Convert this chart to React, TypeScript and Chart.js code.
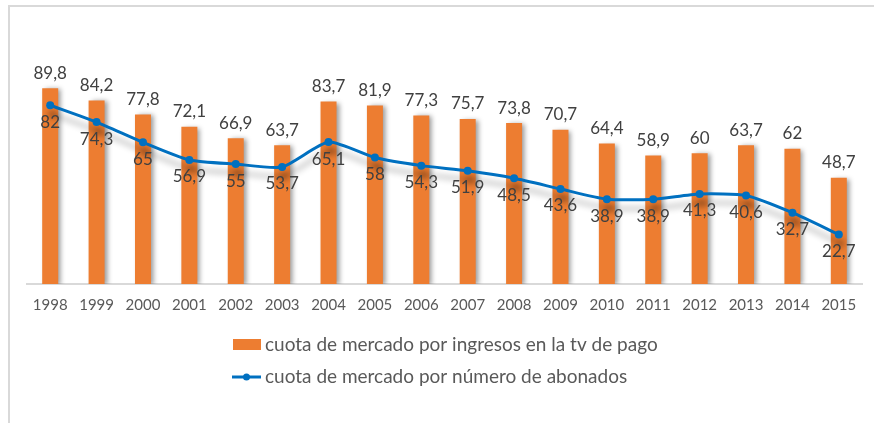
import React, { useEffect, useRef } from "react";
import { Chart, registerables } from "chart.js";

Chart.register(...registerables);

const years = ["1998","1999","2000","2001","2002","2003","2004","2005","2006","2007","2008","2009","2010","2011","2012","2013","2014","2015"];
const ingresos = [89.8, 84.2, 77.8, 72.1, 66.9, 63.7, 83.7, 81.9, 77.3, 75.7, 73.8, 70.7, 64.4, 58.9, 60, 63.7, 62, 48.7];
const abonados = [82, 74.3, 65, 56.9, 55, 53.7, 65.1, 58, 54.3, 51.9, 48.5, 43.6, 38.9, 38.9, 41.3, 40.6, 32.7, 22.7];
const labelIngresos = "cuota de mercado por ingresos en la tv de pago";
const labelAbonados = "cuota de mercado por número de abonados";

const ORANGE = "#ED7D31";
const BLUE = "#0070C0";
const FONT = "Lato, 'Open Sans', sans-serif";
const fmt = (v: number) => String(v).replace(".", ",");

export default function App() {
  const ref = useRef<HTMLCanvasElement | null>(null);
  useEffect(() => {
    if (!ref.current) return;
    const shadowPlugin = {
      id: "shadows",
      beforeDatasetDraw(chart: any, args: any) {
        const ctx = chart.ctx;
        ctx.save();
        if (args.meta.type === "bar") {
          ctx.shadowColor = "rgba(0,0,0,0.40)";
          ctx.shadowBlur = 5;
          ctx.shadowOffsetX = 3;
          ctx.shadowOffsetY = 1;
        } else {
          ctx.shadowColor = "rgba(0,0,0,0.30)";
          ctx.shadowBlur = 6;
          ctx.shadowOffsetX = 2;
          ctx.shadowOffsetY = 9;
        }
      },
      afterDatasetDraw(chart: any) {
        chart.ctx.restore();
      },
    };
    const labelsPlugin = {
      id: "valueLabels",
      afterDatasetsDraw(chart: any) {
        const ctx = chart.ctx;
        ctx.save();
        ctx.font = `17px ${FONT}`;
        ctx.fillStyle = "#404040";
        ctx.textAlign = "center";
        ctx.textBaseline = "middle";
        chart.data.datasets.forEach((ds: any, di: number) => {
          const meta = chart.getDatasetMeta(di);
          meta.data.forEach((el: any, i: number) => {
            const v = ds.data[i];
            if (meta.type === "bar") {
              ctx.fillText(fmt(v), el.x, el.y - 15);
            } else {
              ctx.fillText(fmt(v), el.x, el.y + 17);
            }
          });
        });
        ctx.restore();
      },
      afterDraw(chart: any) {
        const ctx = chart.ctx;
        ctx.save();
        ctx.fillStyle = ORANGE;
        ctx.fillRect(233, 339, 28, 11);
        ctx.strokeStyle = BLUE;
        ctx.lineWidth = 3;
        ctx.beginPath();
        ctx.moveTo(232, 377);
        ctx.lineTo(261, 377);
        ctx.stroke();
        ctx.fillStyle = BLUE;
        ctx.beginPath();
        ctx.arc(246.5, 377, 3.5, 0, Math.PI * 2);
        ctx.fill();
        ctx.font = `19px ${FONT}`;
        ctx.fillStyle = "#595959";
        ctx.textAlign = "left";
        ctx.textBaseline = "middle";
        ctx.fillText(labelIngresos, 265, 345);
        ctx.fillText(labelAbonados, 265, 377);
        ctx.restore();
      },
    };
    const chart = new Chart(ref.current, {
      type: "bar",
      data: {
        labels: years,
        datasets: [
          {
            type: "line",
            label: labelAbonados,
            data: abonados,
            borderColor: BLUE,
            backgroundColor: BLUE,
            borderWidth: 3,
            pointRadius: 4,
            pointBackgroundColor: BLUE,
            pointBorderWidth: 0,
            tension: 0.2,
            order: 0,
          } as any,
          {
            type: "bar",
            label: labelIngresos,
            data: ingresos,
            backgroundColor: ORANGE,
            barPercentage: 0.345,
            categoryPercentage: 1,
            order: 1,
          },
        ],
      },
      options: {
        responsive: false,
        animation: false,
        layout: { padding: { left: 27, right: 12, top: 66, bottom: 97 } },
        plugins: { legend: { display: false }, tooltip: { enabled: false } },
        scales: {
          y: { display: false, min: 0, max: 100 },
          x: {
            grid: { display: false, drawTicks: false },
            border: { display: true, color: "#D9D9D9", width: 2 },
            ticks: { padding: 12, color: "#595959", font: { family: FONT, size: 15 } },
          },
        },
      },
      plugins: [shadowPlugin, labelsPlugin],
    });
    return () => chart.destroy();
  }, []);
  return (
    <div style={{ position: "absolute", left: 0, top: 0, width: 874, height: 423, overflow: "hidden", background: "#fff" }}>
      <div style={{ position: "absolute", left: 8, top: 5, width: 870, height: 430, borderTop: "2px solid #D9D9D9", borderLeft: "2px solid #D9D9D9", boxSizing: "border-box" }} />
      <canvas ref={ref} width={874} height={423} style={{ position: "absolute", left: 0, top: 0, width: 874, height: 423 }} />
    </div>
  );
}
